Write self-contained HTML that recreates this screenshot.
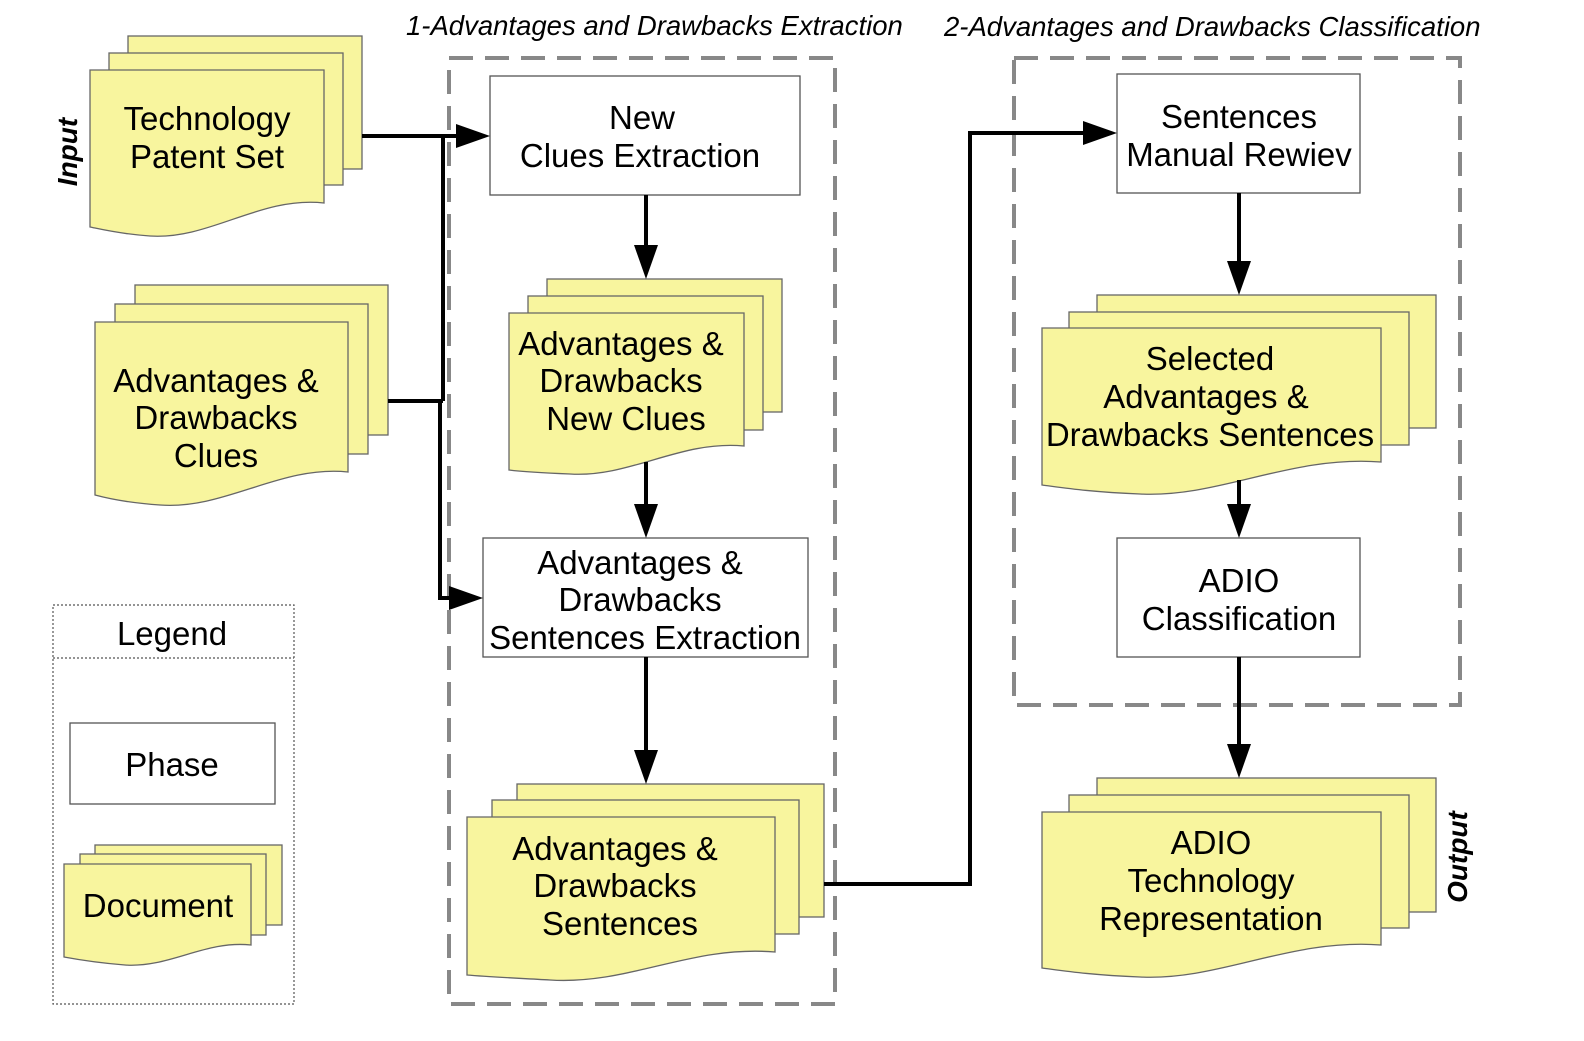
<!DOCTYPE html>
<html><head><meta charset="utf-8"><style>
html,body{margin:0;padding:0;background:#fff}
svg text{font-family:"Liberation Sans",sans-serif;fill:#000}
</style></head><body>
<svg width="1584" height="1036" viewBox="0 0 1584 1036" xmlns="http://www.w3.org/2000/svg">
<g fill="#f8f59e" stroke="#666" stroke-width="1.3">
<rect x="128" y="36" width="234" height="133"/>
<rect x="109" y="53" width="234" height="132"/>
<path d="M90,70 H324 V203 C260,196 210,240 150,236 C120,234 100,229 90,227 Z"/>
<rect x="135" y="285" width="253" height="150"/>
<rect x="115" y="304" width="253" height="150"/>
<path d="M95,322 H348 V472 C280,465 225,510 160,505 C130,503 110,499 95,495 Z"/>
<rect x="547" y="279" width="235" height="133"/>
<rect x="528" y="296" width="235" height="134"/>
<path d="M509,313 H744 V446 C680,440 630,478 570,474 C545,473 525,472 509,470 Z"/>
<rect x="517" y="784" width="307" height="133"/>
<rect x="492" y="800" width="307" height="134"/>
<path d="M467,817 H775 V952 C690,945 630,985 550,980 C515,978 490,977 467,975 Z"/>
<rect x="1097" y="295" width="339" height="133"/>
<rect x="1069" y="312" width="340" height="133"/>
<path d="M1042,328 H1381 V462 C1290,455 1220,498 1140,494 C1090,492 1065,488 1042,485 Z"/>
<rect x="1097" y="778" width="339" height="134"/>
<rect x="1069" y="795" width="340" height="133"/>
<path d="M1042,812 H1381 V945 C1290,938 1220,981 1140,977 C1090,975 1065,971 1042,968 Z"/>
<rect x="95" y="845" width="187" height="80"/>
<rect x="80" y="854" width="186" height="81"/>
<path d="M64,864 H251 V945 C205,940 170,968 125,965 C100,963 80,960 64,957 Z"/>
</g>
<g fill="none" stroke="#888" stroke-width="4" stroke-dasharray="24 12">
<rect x="449" y="58" width="386" height="946"/>
<rect x="1014" y="58" width="446" height="647"/>
</g>
<g fill="#fff" stroke="#555" stroke-width="1.3">
<rect x="490" y="76" width="310" height="119"/>
<rect x="483" y="538" width="325" height="119"/>
<rect x="1117" y="74" width="243" height="119"/>
<rect x="1117" y="538" width="243" height="119"/>
<rect x="70" y="723" width="205" height="81"/>
</g>
<g fill="none" stroke="#555" stroke-width="1.2" stroke-dasharray="2 2">
<rect x="53" y="605" width="241" height="399"/>
<line x1="53" y1="658" x2="294" y2="658"/>
</g>
<g fill="none" stroke="#000" stroke-width="4">
<polyline points="362,136 460,136"/>
<polyline points="443,136 443,401"/>
<polyline points="388,401 443,401"/>
<polyline points="440,401 440,598 455,598"/>
<line x1="646" y1="195" x2="646" y2="252"/>
<line x1="646" y1="462" x2="646" y2="510"/>
<line x1="646" y1="657" x2="646" y2="756"/>
<polyline points="824,884 970,884 970,133 1090,133"/>
<line x1="1239" y1="193" x2="1239" y2="268"/>
<line x1="1239" y1="480" x2="1239" y2="512"/>
<line x1="1239" y1="657" x2="1239" y2="752"/>
</g>
<g fill="#000">
<polygon points="490,136 456,124 456,148"/>
<polygon points="483,598 449,586 449,610"/>
<polygon points="646,279 634,245 658,245"/>
<polygon points="646,538 634,504 658,504"/>
<polygon points="646,784 634,750 658,750"/>
<polygon points="1117,133 1083,121 1083,145"/>
<polygon points="1239,295 1227,261 1251,261"/>
<polygon points="1239,538 1227,504 1251,504"/>
<polygon points="1239,778 1227,744 1251,744"/>
</g>
<g font-size="33" text-anchor="middle">
<text x="207" y="130">Technology</text>
<text x="207" y="168">Patent Set</text>
<text x="216" y="392">Advantages &amp;</text>
<text x="216" y="429">Drawbacks</text>
<text x="216" y="467">Clues</text>
<text x="642" y="129">New</text>
<text x="640" y="167">Clues Extraction</text>
<text x="621" y="355">Advantages &amp;</text>
<text x="621" y="392">Drawbacks</text>
<text x="626" y="430">New Clues</text>
<text x="640" y="574">Advantages &amp;</text>
<text x="640" y="611">Drawbacks</text>
<text x="645" y="649">Sentences Extraction</text>
<text x="615" y="860">Advantages &amp;</text>
<text x="615" y="897">Drawbacks</text>
<text x="620" y="935">Sentences</text>
<text x="1239" y="128">Sentences</text>
<text x="1239" y="166">Manual Rewiev</text>
<text x="1210" y="370">Selected</text>
<text x="1206" y="408">Advantages &amp;</text>
<text x="1210" y="446">Drawbacks Sentences</text>
<text x="1239" y="592">ADIO</text>
<text x="1239" y="630">Classification</text>
<text x="1211" y="854">ADIO</text>
<text x="1211" y="892">Technology</text>
<text x="1211" y="930">Representation</text>
<text x="172" y="645">Legend</text>
<text x="172" y="776">Phase</text>
<text x="158" y="917">Document</text>
</g>
<g font-size="27.5" font-style="italic">
<text x="406" y="35">1-Advantages and Drawbacks Extraction</text>
<text x="944" y="36">2-Advantages and Drawbacks Classification</text>
</g>
<g font-size="28" font-style="italic" font-weight="bold" text-anchor="middle">
<text transform="translate(77,152) rotate(-90)">Input</text>
<text transform="translate(1467,857) rotate(-90)">Output</text>
</g>
</svg>
</body></html>
